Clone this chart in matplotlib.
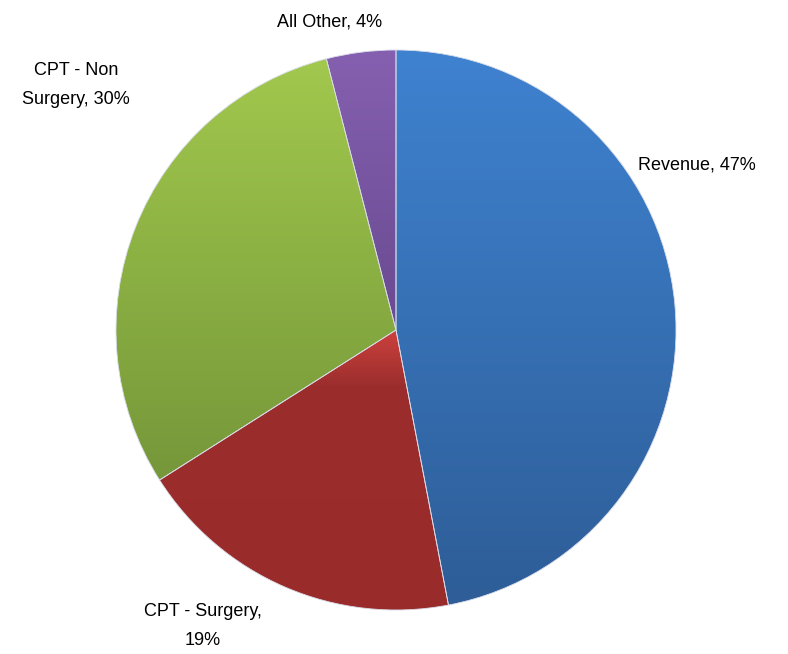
import numpy as np
import matplotlib.pyplot as plt
from matplotlib.colors import LinearSegmentedColormap

plt.rcParams['font.family'] = ['Liberation Sans', 'DejaVu Sans']

# slice data, clockwise from 12 o'clock
names = ['Revenue', 'CPT - Surgery', 'CPT - Non Surgery', 'All Other']
shares = [47, 19, 30, 4]
label_text = ['Revenue, 47%', 'CPT - Surgery,\n19%', 'CPT - Non\nSurgery, 30%', 'All Other, 4%']

# gradient colours (bottom, mid, top) for each slice
grad_cols = [
    ['#2e5d97', '#3670b4', '#3f82d0'],
    ['#992c2b', '#9b2e2d', '#cc413d'],
    ['#76973a', '#8bb043', '#a2c84e'],
    ['#6a4a92', '#7755a0', '#8560b0'],
]
grad_mid = [0.5, 0.8, 0.5, 0.5]

# label anchor points in figure pixels (y from bottom)
label_pos = [(697, 489), (203, 28), (76, 569), (330, 632)]

cx, cy, r = 396, 324, 280

fig = plt.figure(figsize=(7.88, 6.54), dpi=100)
ax = fig.add_axes([0, 0, 1, 1])

wedges, _ = ax.pie(shares, startangle=90, counterclock=False, center=(cx, cy),
                   radius=r, frame=True,
                   wedgeprops=dict(edgecolor='#d8dce8', linewidth=0.6))

grad = np.linspace(0, 1, 256).reshape(-1, 1)
for w, cols, m in zip(wedges, grad_cols, grad_mid):
    ang = np.radians(np.linspace(w.theta1, w.theta2, 100))
    xs = np.concatenate([[cx], cx + r * np.cos(ang)])
    ys = np.concatenate([[cy], cy + r * np.sin(ang)])
    cmap = LinearSegmentedColormap.from_list('g', [(0, cols[0]), (m, cols[1]), (1, cols[2])])
    im = ax.imshow(grad, extent=(xs.min(), xs.max(), ys.min(), ys.max()),
                   origin='lower', cmap=cmap, aspect='auto', zorder=0.5)
    im.set_clip_path(w)
    w.set_facecolor('none')
    w.set_zorder(1)

for txt, (x, y) in zip(label_text, label_pos):
    ax.text(x, y, txt, ha='center', va='center', fontsize=13, linespacing=1.85,
            color='black')

ax.set_xlim(0, 788)
ax.set_ylim(0, 654)
ax.set_aspect('equal')
ax.axis('off')

plt.savefig('out.png', dpi=100)
